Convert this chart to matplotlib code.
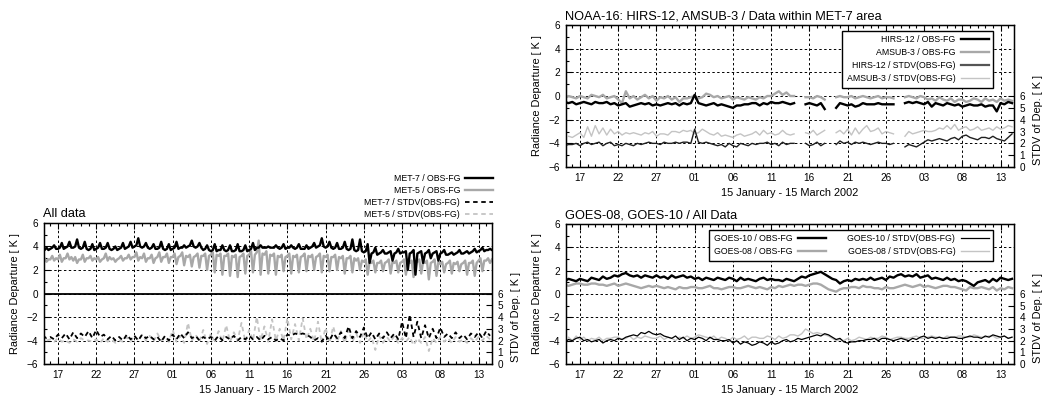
import numpy as np
import pandas as pd
import matplotlib
matplotlib.use("Agg")
import matplotlib.pyplot as plt
import matplotlib.dates as mdates

plt.rcParams['font.family'] = ['Liberation Sans', 'DejaVu Sans']

nan = np.nan
# 12-hourly samples, 15 Jan 2002 00 UTC .. 14 Mar 2002 12 UTC
times = pd.date_range('2002-01-15', periods=118, freq='12h')
# 6-hourly samples for the MET-7 / MET-5 departures
times6 = pd.date_range('2002-01-15', periods=236, freq='6h')

# All data: MET-7 / MET-5
met7_fg = [3.8, 3.7, 3.9, 3.7, 3.8, 3.9, 4.1, 3.8, 3.8, 3.9, 4.3, 3.8, 3.9, 4.0, 4.4, 3.9,
           3.9, 4.0, 4.6, 3.9, 3.8, 3.9, 4.4, 3.8, 3.7, 3.8, 4.2, 3.7, 3.8, 3.9, 4.3, 3.8,
           3.8, 3.9, 4.3, 3.8, 3.7, 3.8, 4.0, 3.7, 3.8, 3.9, 4.3, 3.8, 3.9, 4.0, 4.4, 3.9,
           4.0, 4.1, 4.7, 4.0, 3.9, 4.0, 4.3, 3.9, 3.8, 3.9, 4.2, 3.8, 3.8, 3.9, 4.4, 3.8,
           3.7, 3.8, 4.2, 3.7, 3.8, 3.9, 4.4, 3.8, 3.9, 3.9, 4.1, 3.9, 4.0, 4.1, 4.5, 4.0,
           3.9, 4.0, 4.3, 3.9, 3.7, 3.8, 4.1, 3.7, 3.6, 3.7, 4.2, 3.6, 3.7, 3.7, 4.1, 3.7,
           3.6, 3.7, 4.1, 3.6, 3.6, 3.7, 4.2, 3.6, 3.6, 3.7, 4.1, 3.6, 3.7, 3.8, 4.3, 3.7,
           3.9, 3.9, 4.1, 3.9, 3.9, 3.9, 4.0, 3.9, 3.9, 3.9, 4.1, 3.9, 3.8, 3.9, 4.2, 3.8,
           3.9, 3.9, 4.1, 3.9, 3.8, 3.9, 4.2, 3.8, 3.8, 3.8, 4.1, 3.8, 3.9, 4.0, 4.3, 3.9,
           4.0, 4.1, 4.7, 4.0, 3.9, 4.0, 4.4, 3.9, 3.8, 3.9, 4.3, 3.8, 3.8, 3.9, 4.4, 3.8,
           3.7, 3.8, 4.6, 3.7, 3.6, 3.7, 4.6, 3.6, 3.5, 3.6, 4.2, 2.6, 3.4, 3.5, 3.9, 3.3,
           3.4, 3.5, 3.7, 3.4, 3.4, 3.5, 3.6, 2.8, 3.4, 3.5, 3.8, 3.4, 3.5, 3.5, 3.6, 2.0,
           3.4, 3.5, 3.7, 1.6, 3.4, 3.5, 3.6, 2.6, 3.4, 3.5, 3.7, 3.0, 3.4, 3.5, 3.6, 2.8,
           3.4, 3.5, 3.7, 3.3, 3.3, 3.4, 3.5, 3.3, 3.4, 3.5, 3.7, 3.4, 3.4, 3.5, 3.6, 3.4,
           3.5, 3.6, 3.8, 3.5, 3.6, 3.7, 3.9, 3.6, 3.7, 3.7, 3.8, 3.7]
met5_fg = [2.8, 3.0, 2.7, 2.9, 2.9, 3.2, 2.8, 3.0, 2.9, 3.3, 2.7, 3.0, 3.0, 3.4, 2.9, 3.1,
           2.8, 3.1, 2.6, 2.9, 2.9, 3.3, 2.7, 3.0, 3.0, 3.2, 2.8, 3.0, 2.9, 3.1, 2.7, 2.9,
           3.0, 3.4, 2.8, 3.1, 2.9, 3.0, 2.7, 2.9, 3.0, 3.2, 2.8, 3.0, 3.0, 3.3, 2.9, 3.1,
           3.1, 3.5, 2.8, 3.1, 3.0, 3.4, 2.7, 3.0, 3.0, 3.3, 2.6, 3.0, 3.1, 3.5, 2.7, 3.1,
           3.1, 3.4, 2.6, 3.1, 3.1, 3.4, 2.5, 3.1, 3.2, 3.5, 2.4, 3.2, 3.1, 3.3, 2.3, 3.1,
           3.2, 3.4, 2.2, 3.2, 3.2, 3.4, 2.0, 3.2, 3.3, 3.5, 1.8, 3.3, 3.2, 3.4, 1.6, 3.2,
           3.2, 3.4, 1.5, 3.2, 3.1, 3.3, 1.4, 3.1, 3.2, 3.4, 1.7, 3.2, 3.3, 3.6, 1.8, 3.3,
           3.5, 4.5, 1.6, 3.4, 3.3, 3.6, 1.7, 3.3, 3.2, 3.4, 1.6, 3.2, 3.1, 3.3, 1.9, 3.1,
           3.2, 3.4, 1.7, 3.2, 3.1, 3.3, 1.8, 3.1, 3.2, 3.4, 1.9, 3.2, 3.1, 3.3, 2.0, 3.1,
           3.2, 3.4, 1.8, 3.2, 3.1, 3.3, 1.9, 3.1, 3.1, 3.3, 2.0, 3.1, 3.0, 3.2, 1.7, 3.0,
           3.0, 3.2, 1.8, 3.0, 2.8, 3.0, 2.0, 2.8, 2.7, 2.9, 1.6, 2.7, 2.6, 2.8, 1.8, 2.6,
           2.6, 2.8, 1.9, 2.6, 2.7, 2.9, 1.7, 2.7, 2.6, 2.8, 1.8, 2.6, 2.7, 2.9, 1.6, 2.7,
           2.6, 2.8, 1.4, 2.6, 2.7, 2.9, 1.7, 2.7, 2.6, 2.8, 1.2, 2.6, 2.7, 2.9, 1.5, 2.7,
           2.5, 2.7, 1.8, 2.5, 2.6, 2.8, 1.7, 2.6, 2.5, 2.7, 1.9, 2.5, 2.6, 2.8, 1.6, 2.6,
           2.6, 2.8, 1.5, 2.6, 2.8, 3.0, 1.9, 2.8, 2.8, 3.0, 2.6, 2.9]
met7_sd = [2.4, 2.2, 2.3, 2.1, 2.5, 2.2, 2.6, 2.1, 2.7, 2.2, 2.6, 2.3, 2.8, 2.2, 2.9, 2.3,
           2.5, 2.1, 2.4, 2.0, 2.3, 2.0, 2.5, 2.1, 2.4, 2.0, 2.5, 2.2, 2.4, 2.1, 2.3, 1.9,
           2.4, 2.0, 2.5, 2.1, 2.6, 2.2, 2.7, 2.2, 2.4, 2.0, 2.3, 2.1, 2.3, 2.0, 2.4, 2.0,
           2.3, 2.1, 2.4, 2.0, 2.3, 2.1, 2.4, 2.1, 2.3, 2.0, 2.4, 2.1, 2.3, 2.0, 2.2, 2.0,
           2.5, 2.4, 2.6, 2.5, 2.6, 2.5, 2.3, 2.0, 2.2, 1.9, 2.4, 2.0, 2.6, 2.2, 2.7, 2.2,
           3.2, 2.2, 2.8, 2.3, 3.1, 2.2, 2.7, 2.1, 2.6, 2.2, 2.7, 2.2, 2.6, 2.1, 3.6, 2.2,
           4.2, 2.3, 3.6, 2.2, 3.3, 2.2, 3.0, 2.2, 3.1, 2.3, 2.6, 2.2, 2.7, 2.2, 2.5, 2.1,
           2.6, 2.3, 2.7, 2.2, 2.8, 2.4]
met5_sd = [2.6, 2.0, 2.1, 1.9, 2.2, 1.9, 2.0, 1.8, 2.1, 1.9, 2.2, 2.0, 2.0, 1.9, 2.1, 1.8,
           2.2, 1.9, 2.1, 1.8, 2.0, 1.9, 2.3, 1.9, 2.4, 2.0, 2.5, 2.0, 2.4, 1.9, 2.6, 2.0,
           2.3, 1.9, 2.9, 1.9, 2.4, 1.8, 3.5, 2.0, 2.5, 1.9, 2.9, 1.7, 2.6, 1.8, 2.8, 1.9,
           3.3, 1.9, 2.7, 2.0, 3.5, 1.9, 2.9, 2.0, 4.0, 2.0, 3.2, 1.9, 3.8, 2.0, 3.0, 2.0,
           3.9, 2.1, 3.4, 2.0, 3.9, 2.1, 3.0, 1.9, 3.6, 1.8, 3.1, 1.8, 3.2, 1.9, 2.8, 1.8,
           2.9, 1.9, 2.6, 1.8, 2.7, 1.9, 2.3, 1.2, 2.4, 1.8, 2.3, 1.9, 2.4, 1.8, 2.2, 1.9,
           2.3, 1.6, 2.2, 1.8, 2.3, 1.1, 2.2, 1.8, 2.3, 1.9, 2.2, 1.8, 2.3, 1.9, 2.1, 1.8,
           2.2, 1.9, 2.3, 2.0, 2.4, 2.1]

# NOAA-16: HIRS-12 / AMSUB-3 within MET-7 area
hirs_fg = [-0.5, -0.6, -0.5, -0.7, -0.6, -0.5, -0.6, -0.7, -0.5, -0.6, -0.6, -0.5, -0.7, -0.6, -0.8, -0.7,
           -0.6, -0.9, -0.8, -0.7, -0.6, -0.7, -0.6, -0.8, -0.7, -0.8, -0.7, -0.6, -0.7, -0.6, -0.8, -0.6,
           -0.7, -0.6, 0.1, -0.6, -0.7, -0.8, -0.7, -0.6, -0.8, -0.7, -0.8, -0.9, -1.0, -0.8, -0.8, -0.7,
           -0.7, -0.6, -0.6, -0.8, -0.6, -0.7, -0.5, -0.6, -0.6, -0.5, -0.6, -0.7, -0.6, nan, nan, -0.7,
           -0.6, -0.7, -0.8, -0.6, -1.1, nan, nan, -1.0, -0.6, -0.7, -0.8, -0.7, -0.9, -0.8, -0.6, -0.7,
           -0.7, -0.7, -0.6, -0.7, -0.7, -0.7, -0.7, nan, nan, -0.6, -0.5, -0.6, -0.5, -0.6, -0.7, -0.5,
           -0.9, -0.6, -0.7, -0.8, -0.6, -0.7, -0.8, -0.7, -0.9, -0.8, -0.7, -0.8, -0.8, -0.7, -0.9, -0.8,
           -0.8, -1.3, -0.6, -0.7, -0.5, -0.6]
amsu_fg = [-0.2, 0.0, -0.1, -0.2, 0.0, -0.1, -0.2, 0.1, 0.0, -0.1, 0.1, -0.2, -0.1, 0.0, -0.3, -0.6,
           0.4, -0.2, 0.0, -0.3, -0.1, 0.1, -0.2, 0.0, -0.4, -0.1, -0.2, 0.0, -0.3, -0.1, -0.5, -0.2,
           -0.2, -0.1, 0.0, -0.2, -0.1, 0.2, 0.1, -0.1, 0.0, -0.2, -0.1, 0.0, -0.3, -0.1, -0.2, -0.3,
           -0.1, -0.2, -0.3, -0.1, -0.2, 0.0, 0.0, 0.2, 0.4, 0.1, 0.3, 0.0, 0.0, nan, nan, -0.1,
           -0.1, -0.2, 0.0, -0.1, -0.3, nan, nan, -0.1, 0.0, -0.1, -0.1, 0.0, -0.2, -0.1, 0.0, -0.1,
           -0.2, -0.1, 0.0, -0.2, -0.1, -0.1, -0.2, nan, nan, -0.1, 0.0, -0.1, -0.2, 0.0, -0.1, -0.3,
           -0.2, -0.4, -0.1, -0.3, -0.4, -0.2, -0.5, -0.3, -0.3, -0.5, -0.4, -0.2, -0.3, -0.5, -0.2, -0.4,
           -0.3, -0.5, -0.2, -0.4, -0.3, -0.4]
hirs_sd = [1.8, 1.9, 1.9, 2.0, 1.8, 2.0, 2.1, 1.9, 2.0, 2.1, 1.8, 2.0, 2.1, 1.8, 1.9, 1.8,
           2.0, 1.9, 1.8, 2.0, 1.9, 2.0, 2.1, 2.0, 2.0, 1.9, 2.1, 2.0, 2.0, 2.1, 2.0, 2.1,
           2.1, 2.0, 3.2, 2.1, 2.0, 2.1, 2.0, 1.9, 1.8, 1.9, 1.7, 2.0, 1.8, 1.7, 2.0, 1.9,
           1.8, 2.0, 1.9, 2.0, 2.0, 2.1, 1.9, 2.0, 1.8, 2.1, 1.9, 2.0, 2.0, nan, nan, 2.0,
           1.8, 1.9, 2.1, 1.8, 2.0, nan, nan, 1.9, 2.2, 2.0, 2.1, 1.9, 2.1, 2.0, 2.1, 2.0,
           1.9, 2.0, 2.1, 2.0, 2.0, 1.9, 2.0, nan, nan, 1.7, 1.9, 1.8, 1.7, 1.9, 2.1, 2.3,
           2.2, 2.3, 2.4, 2.3, 2.2, 2.4, 2.5, 2.3, 2.6, 2.7, 2.5, 2.4, 2.3, 2.5, 2.5, 2.4,
           2.6, 2.4, 2.3, 2.2, 2.5, 2.8]
amsu_sd = [2.5, 2.6, 2.5, 2.7, 2.9, 2.5, 3.4, 2.6, 3.5, 2.8, 3.3, 2.7, 3.2, 2.8, 3.0, 2.7,
           2.9, 2.8, 2.9, 2.8, 2.7, 2.9, 2.8, 3.0, 2.6, 2.8, 2.8, 2.7, 3.0, 3.0, 2.9, 3.1,
           3.0, 3.1, 2.8, 2.9, 3.2, 3.0, 2.8, 2.7, 2.9, 2.6, 2.7, 2.6, 2.5, 2.7, 2.8, 2.6,
           2.7, 2.8, 3.0, 2.7, 3.1, 2.8, 2.9, 2.7, 2.8, 3.1, 2.8, 2.7, 2.8, nan, nan, 2.9,
           2.8, 3.1, 2.7, 2.9, 3.1, nan, nan, 2.9, 3.1, 2.8, 3.2, 2.7, 3.3, 2.8, 3.2, 3.5,
           3.0, 3.1, 3.3, 2.8, 3.0, 2.9, 2.8, nan, nan, 2.6, 3.0, 2.8, 2.9, 3.0, 3.1, 3.0,
           3.0, 3.1, 3.3, 3.2, 3.5, 3.2, 3.6, 3.1, 3.3, 3.4, 3.1, 3.2, 3.4, 3.1, 3.2, 3.3,
           3.1, 3.4, 3.2, 3.3, 3.5, 3.4]

# GOES-08 / GOES-10
g10_fg = [1.1, 1.3, 1.2, 1.1, 1.3, 1.2, 1.1, 1.4, 1.3, 1.2, 1.5, 1.3, 1.4, 1.6, 1.5, 1.7,
          1.8, 1.6, 1.5, 1.6, 1.4, 1.6, 1.5, 1.4, 1.6, 1.4, 1.5, 1.3, 1.6, 1.4, 1.5, 1.6,
          1.4, 1.5, 1.3, 1.4, 1.2, 1.4, 1.3, 1.2, 1.4, 1.3, 1.2, 1.4, 1.3, 1.1, 1.4, 1.2,
          1.3, 1.2, 1.1, 1.3, 1.4, 1.2, 1.3, 1.2, 1.2, 1.1, 1.3, 1.2, 1.1, 1.3, 1.5, 1.4,
          1.6, 1.7, 1.8, 1.9, 1.7, 1.5, 1.3, 1.2, 0.9, 1.1, 1.2, 1.1, 1.3, 1.2, 1.3, 1.2,
          1.4, 1.2, 1.3, 1.4, 1.2, 1.5, 1.4, 1.6, 1.7, 1.5, 1.6, 1.5, 1.7, 1.4, 1.5, 1.6,
          1.3, 1.4, 1.3, 1.2, 1.4, 1.2, 1.3, 1.1, 1.2, 1.1, 0.9, 0.7, 1.0, 1.1, 1.2, 1.0,
          1.3, 1.1, 1.4, 1.3, 1.2, 1.3]
g08_fg = [0.8, 0.7, 0.8, 0.9, 0.9, 0.8, 0.8, 0.9, 0.9, 0.8, 0.8, 0.7, 0.8, 0.9, 0.7, 0.8,
          0.9, 0.8, 0.7, 0.6, 0.5, 0.6, 0.7, 0.6, 0.7, 0.6, 0.5, 0.6, 0.5, 0.4, 0.6, 0.5,
          0.5, 0.6, 0.6, 0.5, 0.5, 0.6, 0.7, 0.5, 0.5, 0.4, 0.5, 0.6, 0.6, 0.5, 0.5, 0.6,
          0.7, 0.6, 0.5, 0.6, 0.5, 0.4, 0.6, 0.5, 0.7, 0.6, 0.7, 0.8, 0.7, 0.8, 0.8, 0.7,
          0.8, 0.9, 0.9, 0.8, 0.6, 0.4, 0.3, 0.2, 0.4, 0.5, 0.5, 0.6, 0.6, 0.5, 0.7, 0.6,
          0.6, 0.5, 0.5, 0.4, 0.6, 0.5, 0.5, 0.6, 0.7, 0.8, 0.7, 0.6, 0.7, 0.8, 0.6, 0.7,
          0.6, 0.5, 0.6, 0.7, 0.7, 0.6, 0.6, 0.5, 0.4, 0.3, 0.6, 0.5, 0.5, 0.6, 0.5, 0.4,
          0.6, 0.3, 0.5, 0.4, 0.6, 0.5]
g10_sd = [1.9, 2.1, 2.0, 2.2, 2.3, 2.0, 2.1, 1.9, 2.0, 2.1, 1.8, 2.0, 2.1, 2.0, 2.2, 2.1,
          2.3, 2.4, 2.5, 2.4, 2.7, 2.6, 2.8, 2.6, 2.5, 2.6, 2.4, 2.3, 2.2, 2.4, 2.1, 2.3,
          2.0, 2.2, 2.1, 2.3, 2.2, 2.0, 2.3, 2.1, 2.1, 2.0, 2.0, 2.1, 1.8, 2.0, 1.7, 1.9,
          1.8, 1.6, 1.7, 1.9, 1.8, 1.6, 1.9, 1.7, 1.8, 2.0, 2.1, 1.9, 2.0, 2.2, 2.1, 2.2,
          2.3, 2.4, 2.5, 2.4, 2.6, 2.5, 2.3, 2.1, 2.2, 1.9, 1.8, 1.9, 1.9, 2.0, 2.0, 2.1,
          2.1, 2.2, 2.0, 2.2, 2.2, 2.1, 2.0, 2.1, 2.2, 2.1, 2.0, 2.2, 2.1, 2.3, 2.4, 2.2,
          2.3, 2.2, 2.3, 2.2, 2.2, 2.3, 2.3, 2.2, 2.2, 2.3, 2.4, 2.3, 2.3, 2.2, 2.4, 2.3,
          2.5, 2.4, 2.3, 2.4, 2.2, 2.3]
g08_sd = [1.8, 2.3, 2.0, 2.4, 2.1, 2.3, 2.0, 2.2, 2.1, 2.3, 2.0, 2.2, 2.2, 2.3, 2.3, 2.1,
          2.2, 2.4, 2.1, 2.3, 2.2, 2.4, 2.3, 2.2, 2.2, 2.4, 2.1, 2.3, 2.2, 2.0, 2.3, 2.2,
          2.4, 2.2, 2.3, 2.5, 2.4, 2.3, 2.2, 2.4, 2.1, 2.3, 2.2, 2.0, 2.3, 2.1, 2.2, 2.4,
          2.1, 2.3, 2.3, 2.2, 2.2, 2.4, 2.3, 2.1, 2.4, 2.2, 2.3, 2.5, 2.5, 2.4, 2.6, 3.0,
          2.8, 2.6, 2.7, 2.6, 2.5, 2.4, 2.2, 2.0, 2.1, 2.0, 2.2, 2.0, 2.1, 2.3, 2.2, 2.1,
          2.3, 2.2, 2.2, 2.4, 2.3, 2.1, 2.2, 2.3, 2.3, 2.2, 2.2, 2.3, 2.4, 2.2, 2.2, 2.3,
          2.4, 2.3, 2.3, 2.2, 2.4, 2.3, 2.3, 2.4, 2.4, 2.3, 2.3, 2.5, 2.4, 2.3, 2.3, 2.4,
          2.4, 2.2, 2.3, 2.4, 2.2, 2.3]

BLACK = 'black'
GRAY = '#a8a8a8'
LGRAY = '#c4c4c4'
FS = 7.9
TFS = 7.2


def setup(ax, title, zero_solid=False):
    ax.set_xlim(pd.Timestamp('2002-01-15 04:00'), pd.Timestamp('2002-03-14 18:00'))
    ax.set_ylim(-6, 6)
    ax.set_yticks(range(-6, 7, 2))
    ax.set_yticks(range(-6, 7), minor=True)
    ax.set_xticks(pd.date_range('2002-01-17', '2002-03-14', freq='5D'))
    ax.xaxis.set_minor_locator(mdates.DayLocator())
    ax.xaxis.set_major_formatter(mdates.DateFormatter('%d'))
    ax.tick_params(which='both', direction='in', top=True, right=False, labelsize=TFS)
    ax.tick_params(which='major', length=4.5, width=0.8)
    ax.tick_params(which='minor', length=2.5, width=0.8)
    ax.tick_params(axis='x', pad=4)
    ax.tick_params(axis='y', pad=4)
    ax.grid(True, which='major', color='black', linestyle=(0, (2.5, 2.5)), linewidth=0.7)
    if zero_solid:
        ax.axhline(0, color='black', lw=1.3, zorder=1)
    for s in ax.spines.values():
        s.set_linewidth(1.0)
    ax.set_ylabel('Radiance Departure [ K ]', fontsize=FS)
    ax.yaxis.set_label_coords(-0.053, 0.5)
    ax.set_xlabel('15 January - 15 March 2002', fontsize=FS, labelpad=4)
    ax.set_title(title, loc='left', fontsize=9.2, pad=4, x=-0.003)
    tw = ax.twinx()
    tw.set_ylim(0, 12)
    tw.set_yticks(range(0, 7))
    tw.tick_params(direction='in', length=4.5, width=0.8, labelsize=TFS, pad=4)
    tw.set_ylabel('STDV of Dep. [ K ]', fontsize=FS)
    tw.yaxis.set_label_coords(1.042, 0.33)
    return tw


fig = plt.figure(figsize=(10.44, 3.97), dpi=100)
ax1 = fig.add_axes([0.0421, 0.0831, 0.4291, 0.3552])
ax2 = fig.add_axes([0.5421, 0.5793, 0.4291, 0.3577])
ax3 = fig.add_axes([0.5421, 0.0831, 0.4291, 0.3526])

# --- All data
tw1 = setup(ax1, 'All data', zero_solid=True)
l2, = ax1.plot(times6, met5_fg, color=GRAY, lw=1.7, label='MET-5 / OBS-FG')
l1, = ax1.plot(times6, met7_fg, color=BLACK, lw=1.7, label='MET-7 / OBS-FG')
l4, = tw1.plot(times, met5_sd, color=LGRAY, lw=1.3, dashes=(2.5, 2.0), label='MET-5 / STDV(OBS-FG)')
l3, = tw1.plot(times, met7_sd, color=BLACK, lw=1.3, dashes=(2.5, 2.0), label='MET-7 / STDV(OBS-FG)')
hh = [l1, l2, l3, l4]
tw1.legend(hh, [h.get_label() for h in hh], loc='lower right', bbox_to_anchor=(1.003, 1.03),
           frameon=False, markerfirst=False, fontsize=6.3, handlelength=3.2,
           handletextpad=0.6, labelspacing=0.35, borderpad=0, borderaxespad=0)

# --- NOAA-16
tw2 = setup(ax2, 'NOAA-16: HIRS-12, AMSUB-3 / Data within MET-7 area')
a1, = ax2.plot(times, amsu_fg, color=GRAY, lw=1.7, label='AMSUB-3 / OBS-FG')
h1, = ax2.plot(times, hirs_fg, color=BLACK, lw=1.7, label='HIRS-12 / OBS-FG')
a2, = tw2.plot(times, amsu_sd, color=LGRAY, lw=1.0, label='AMSUB-3 / STDV(OBS-FG)')
h2, = tw2.plot(times, hirs_sd, color='#202020', lw=1.0, label='HIRS-12 / STDV(OBS-FG)')
hh = [h1, a1, h2, a2]
leg2 = tw2.legend(hh, [h.get_label() for h in hh], loc='upper right',
                  bbox_to_anchor=(0.953, 0.958), markerfirst=False, fontsize=6.3,
                  handlelength=3.2, handletextpad=0.6, labelspacing=0.45,
                  fancybox=False, edgecolor='black', framealpha=1, borderpad=0.5,
                  borderaxespad=0)
leg2.get_frame().set_linewidth(1.0)
leg2.get_lines()[2].set_color('#555555')
leg2.get_lines()[2].set_linewidth(1.6)

# --- GOES
tw3 = setup(ax3, 'GOES-08, GOES-10 / All Data')
b1, = ax3.plot(times, g08_fg, color=GRAY, lw=1.7, label='GOES-08 / OBS-FG')
c1, = ax3.plot(times, g10_fg, color=BLACK, lw=1.7, label='GOES-10 / OBS-FG')
b2, = tw3.plot(times, g08_sd, color=LGRAY, lw=1.0, label='GOES-08 / STDV(OBS-FG)')
c2, = tw3.plot(times, g10_sd, color=BLACK, lw=0.9, label='GOES-10 / STDV(OBS-FG)')
hh = [c1, b1, c2, b2]
leg3 = tw3.legend(hh, [h.get_label() for h in hh], loc='upper right', ncol=2,
                  bbox_to_anchor=(0.953, 0.957), markerfirst=False, fontsize=6.3,
                  handlelength=3.2, handletextpad=0.6, labelspacing=0.45, columnspacing=2.5,
                  fancybox=False, edgecolor='black', framealpha=1, borderpad=0.5,
                  borderaxespad=0)
leg3.get_frame().set_linewidth(1.0)

fig.savefig('out.png', dpi=100)
